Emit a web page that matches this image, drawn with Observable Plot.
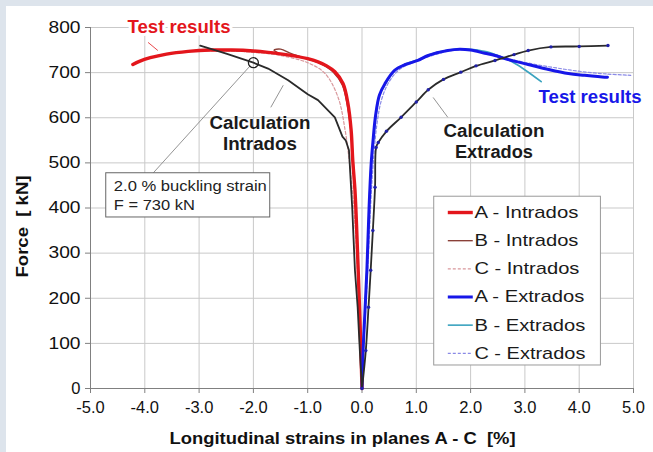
<!DOCTYPE html>
<html><head><meta charset="utf-8">
<script src="https://cdn.jsdelivr.net/npm/d3@7"></script>
<script src="https://cdn.jsdelivr.net/npm/@observablehq/plot@0.6"></script>
<style>
body{margin:0;background:#dde4ec;}
#wrap{position:absolute;left:6px;top:6px;width:647px;height:446px;background:#fff;}
</style></head><body><div id="wrap"></div>
<script>
const xTicks = [-5,-4,-3,-2,-1,0,1,2,3,4,5];
const yTicks = [0,100,200,300,400,500,600,700,800];

// A - Intrados (test, red)
const aIntStrain = [0,-0.02,-0.04,-0.07,-0.10,-0.13,-0.17,-0.20,-0.26,-0.35,-0.50,-0.65,-0.81,-1.0,-1.4,-1.73,-2.0,-2.4,-2.8,-3.2,-3.6,-3.9,-4.1,-4.22];
const aIntForce  = [0,84,160,262,360,440,505,572,632,676,702,715,724,731,740,745,748,750,750,747,741,733,725,718];
// B - Intrados (test, brown)
const bIntStrain = [0,-0.02,-0.05,-0.08,-0.12,-0.16,-0.20,-0.27,-0.36,-0.52,-0.8,-1.0,-1.3,-1.5,-1.62,-1.55];
const bIntForce  = [0,90,180,290,410,500,565,628,672,700,722,730,742,752,750,744];
// C - Intrados (test, pink dashed)
const cIntStrain = [0,-0.03,-0.08,-0.15,-0.25,-0.31,-0.44,-0.68,-1.0,-1.5,-2.0,-2.5,-3.0];
const cIntForce  = [0,100,250,400,520,572,645,698,722,738,745,748,748];
// A - Extrados (test, blue)
const aExtStrain = [0,0.02,0.05,0.09,0.13,0.17,0.20,0.25,0.32,0.42,0.60,0.80,1.03,1.22,1.58,1.80,2.00,2.26,2.45,2.63,3.06,3.40,3.80,4.10,4.47,4.52];
const aExtForce  = [0,84,160,262,400,500,545,605,650,675,705,718,727,738,749,752,750,743,738,731,718,708,698,694,690,690];
// B - Extrados (test, teal)
const bExtStrain = [0,0.02,0.05,0.09,0.13,0.17,0.21,0.26,0.33,0.44,0.62,0.82,1.05,1.25,1.6,1.85,2.05,2.3,2.5,2.7,2.85,3.05,3.3];
const bExtForce  = [0,84,160,262,400,500,548,607,652,677,707,720,729,740,750,753,751,746,738,728,718,702,680];
// C - Extrados (test, lavender dashed)
const cExtStrain = [0,0.03,0.07,0.12,0.17,0.22,0.28,0.36,0.5,0.7,1.0,1.3,1.7,2.0,2.4,2.8,3.2,3.6,4.0,4.5,4.95];
const cExtForce  = [0,90,180,300,430,520,590,640,680,708,725,738,750,750,741,728,718,710,703,697,694];
// Calculation Intrados (black)
const calcIntStrain = [0,-0.04,-0.08,-0.13,-0.18,-0.24,-0.30,-0.36,-0.50,-0.81,-1.0,-1.36,-1.73,-2.0,-2.5,-2.98];
const calcIntForce  = [0,84,180,262,400,528,550,558,601,639,652,683,709,722,742,760];
// Calculation Extrados (black with markers)
const calcExtStrain = [0,0.07,0.12,0.16,0.20,0.24,0.26,0.30,0.45,0.72,1.0,1.22,1.5,1.82,2.1,2.45,2.8,3.06,3.48,4.0,4.53];
const calcExtForce  = [0,84,180,262,350,446,534,545,570,601,635,662,685,701,715,727,740,749,757,758,760];

const legendLabels = ["A - Intrados","B - Intrados","C - Intrados","A - Extrados","B - Extrados","C - Extrados"];
const annotTexts = ["Test results","Test results","Calculation\nIntrados","Calculation\nExtrados"];
const boxLines = ["2.0 % buckling strain","F = 730 kN"];
const xLabel = "Longitudinal strains in planes A - C  [%]";
const yLabel = "Force  [ kN]";
const bucklingStrain = -2.0, bucklingForce = 722;

const pts = (xs, ys) => xs.map((x, i) => ({x, y: ys[i]}));
const styles = [
  {stroke:"#e3161c", strokeWidth:3.4},
  {stroke:"#8a4038", strokeWidth:1.4},
  {stroke:"#d9979b", strokeWidth:1.2, strokeDasharray:"3,2"},
  {stroke:"#1717e8", strokeWidth:3},
  {stroke:"#3aa3bf", strokeWidth:1.6},
  {stroke:"#8a8ae6", strokeWidth:1.2, strokeDasharray:"3,2"}
];
const series = [
  pts(aIntStrain,aIntForce), pts(bIntStrain,bIntForce), pts(cIntStrain,cIntForce),
  pts(aExtStrain,aExtForce), pts(bExtStrain,bExtForce), pts(cExtStrain,cExtForce)
];
const drawOrder = [2,1,0,5,4,3];
const font = "Liberation Sans, Arial, sans-serif";

// legend layout (data space)
const LX1 = 1.33, LX2 = 4.40, LY1 = 51, LY2 = 425;
const rowF = i => 390 - i*62.4;
const legend = legendLabels.map((t,i)=>({t,i,y:rowF(i)}));

const marks = [
  Plot.gridX(xTicks, {stroke:"#c9c9c9", strokeOpacity:1}),
  Plot.gridY(yTicks, {stroke:"#c9c9c9", strokeOpacity:1}),
  Plot.ruleY([0], {stroke:"#808080"}),
  Plot.ruleX([-5], {stroke:"#808080"}),
  Plot.axisX({ticks:xTicks, tickFormat:d=>d.toFixed(1), tickSize:5, tickPadding:8, fontSize:16.5, label:null, stroke:"#808080", color:"#111"}),
  Plot.axisY({ticks:yTicks, tickSize:5, tickPadding:5, fontSize:16.5, label:null, stroke:"#808080", color:"#111"}),
  Plot.text([xLabel], {frameAnchor:"bottom", dy:55, dx:-19.5, fontWeight:"bold", fontSize:16, fill:"#111"}),
  Plot.text([yLabel], {frameAnchor:"left", textAnchor:"middle", rotate:-90, dx:-68, dy:18.5, fontWeight:"bold", fontSize:16, fill:"#111"}),
  ...drawOrder.map(k => Plot.line(series[k], {x:"x", y:"y", curve:"catmull-rom", ...styles[k]})),
  Plot.line(pts(calcIntStrain,calcIntForce), {x:"x", y:"y", stroke:"#2a2a2a", strokeWidth:1.8}),
  Plot.line(pts(calcExtStrain,calcExtForce), {x:"x", y:"y", stroke:"#2a2a2a", strokeWidth:1.8, curve:"catmull-rom"}),
  Plot.dot(pts(calcExtStrain,calcExtForce), {x:"x", y:"y", r:1.7, fill:"#2020a8"}),
  // leader lines
  Plot.link([{x1:-3.94,y1:767,x2:-3.76,y2:749}], {x1:"x1",y1:"y1",x2:"x2",y2:"y2", stroke:"#e3161c", strokeWidth:0.8}),
  Plot.link([{x1:-1.68,y1:623,x2:-1.45,y2:672},{x1:1.58,y1:601,x2:1.31,y2:645},{x1:-3.85,y1:477,x2:-2.06,y2:715}], {x1:"x1",y1:"y1",x2:"x2",y2:"y2", stroke:"#888", strokeWidth:0.9}),
  Plot.dot([{x:bucklingStrain,y:bucklingForce}], {x:"x", y:"y", r:5, stroke:"#222", strokeWidth:1.3, fill:"none"}),
  // annotation box
  Plot.rect([{x1:-4.71,x2:-1.69,y1:379,y2:477}], {x1:"x1",x2:"x2",y1:"y1",y2:"y2", fill:"white", stroke:"#666", strokeWidth:1}),
  Plot.text(boxLines, {x:-4.57, y:(d,i)=>[448,406][i], text:d=>d, textAnchor:"start", fontSize:14, fill:"#222"}),
  // labels
  Plot.text([annotTexts[0]], {x:-3.37, y:800, fill:"#e3161c", fontWeight:"bold", fontSize:18, stroke:"white", strokeWidth:6}),
  Plot.text([annotTexts[1]], {x:4.2, y:645, fill:"#1717e8", fontWeight:"bold", fontSize:18}),
  Plot.text([annotTexts[2]], {x:-1.88, y:566, fill:"#1a1a1a", fontWeight:"bold", fontSize:17.5, lineHeight:1.2}),
  Plot.text([annotTexts[3]], {x:2.43, y:548, fill:"#1a1a1a", fontWeight:"bold", fontSize:17.5, lineHeight:1.2}),
  // legend
  Plot.rect([{x1:LX1,x2:LX2,y1:LY1,y2:LY2}], {x1:"x1",x2:"x2",y1:"y1",y2:"y2", fill:"white", stroke:"#9a9a9a", strokeWidth:1}),
  ...legend.map(d => Plot.link([d], {x1:1.58, x2:2.04, y1:"y", y2:"y", ...styles[d.i]})),
  Plot.text(legend, {x:2.07, y:"y", text:"t", textAnchor:"start", fontSize:17, fill:"#1a1a1a"})
];

const chart = Plot.plot({
  width:647, height:446,
  marginLeft:84, marginRight:20, marginTop:21, marginBottom:64,
  x:{domain:[-5,5]},
  y:{domain:[0,800]},
  style:{fontFamily:font, background:"white", overflow:"visible"},
  marks
});
document.getElementById("wrap").appendChild(chart);

// match the horizontally wide lettering of the original
const widthTargets = new Map([
  [xLabel, 346], [yLabel, 102], ["Test results", 103],
  ["Calculation", 101], ["Intrados", 74], ["Extrados", 78],
  ["2.0 % buckling strain", 153], ["F = 730 kN", 81],
  ["A - Intrados", 104], ["B - Intrados", 104], ["C - Intrados", 105],
  ["A - Extrados", 110], ["B - Extrados", 111], ["C - Extrados", 111]
]);
chart.querySelectorAll("text, tspan").forEach(el => {
  if (el.tagName === "text" && el.querySelector("tspan")) return;
  const t = el.textContent;
  let w = widthTargets.get(t);
  if (w === undefined && /^[1-8]00$/.test(t)) w = 32;
  if (w !== undefined) {
    el.setAttribute("textLength", w);
    el.setAttribute("lengthAdjust", "spacingAndGlyphs");
  }
});
</script></body></html>
